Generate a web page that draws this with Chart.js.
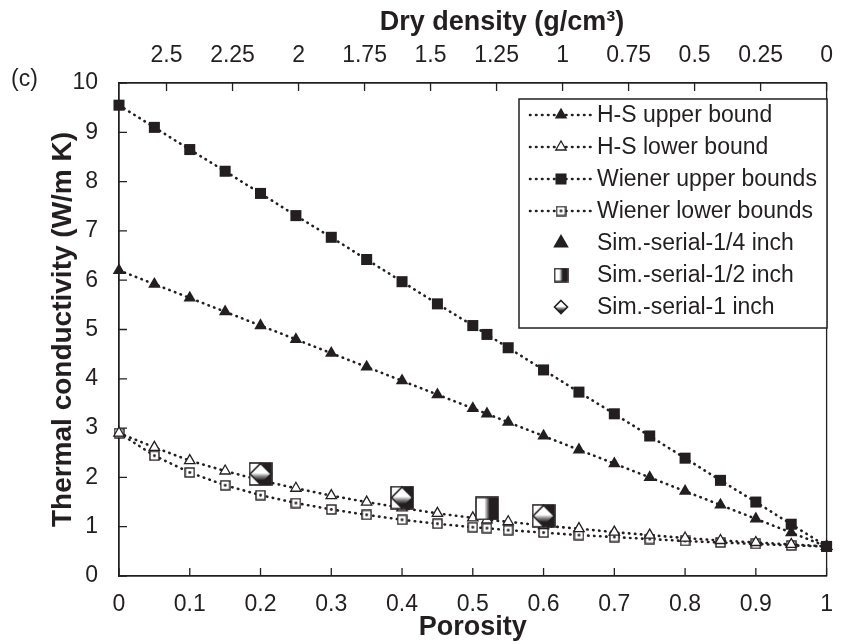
<!DOCTYPE html>
<html><head><meta charset="utf-8">
<script src="https://cdn.jsdelivr.net/npm/chart.js@4.4.1/dist/chart.umd.min.js"></script>
<style>html,body{margin:0;padding:0;background:#fff;}canvas{display:block;}</style>
</head><body>
<canvas id="c" width="848" height="644"></canvas>
<script>
// ---- data ----
const porosity     = [0, 0.05, 0.1, 0.15, 0.2, 0.25, 0.3, 0.35, 0.4, 0.45, 0.5, 0.52, 0.55, 0.6, 0.65, 0.7, 0.75, 0.8, 0.85, 0.9, 0.95, 1];
const hsUpper      = [6.2, 5.92, 5.64, 5.36, 5.08, 4.8, 4.52, 4.24, 3.96, 3.68, 3.4, 3.29, 3.12, 2.84, 2.56, 2.28, 2.0, 1.72, 1.44, 1.16, 0.88, 0.6];
const hsLower      = [2.9, 2.61, 2.34, 2.13, 1.94, 1.78, 1.63, 1.5, 1.38, 1.27, 1.18, 1.14, 1.1, 1.02, 0.96, 0.89, 0.83, 0.77, 0.72, 0.68, 0.64, 0.6];
const wienerUpper  = [9.55, 9.1, 8.65, 8.21, 7.76, 7.31, 6.87, 6.42, 5.97, 5.52, 5.08, 4.9, 4.63, 4.18, 3.73, 3.29, 2.84, 2.39, 1.94, 1.5, 1.05, 0.6];
const wienerLower  = [2.9, 2.44, 2.1, 1.84, 1.64, 1.48, 1.35, 1.24, 1.14, 1.06, 0.99, 0.97, 0.93, 0.88, 0.83, 0.79, 0.75, 0.71, 0.68, 0.65, 0.62, 0.6];
const simQuarterPorosity = [0.2, 0.4, 0.6];
const simQuarter         = [2.07, 1.59, 1.22];
const simHalfPorosity    = [0.2, 0.4, 0.52, 0.6];
const simHalf            = [2.07, 1.59, 1.37, 1.22];
const simOnePorosity     = [0.2, 0.4, 0.6];
const simOne             = [2.07, 1.59, 1.22];
const seriesLabels = ['H-S upper bound', 'H-S lower bound', 'Wiener upper bounds', 'Wiener lower bounds',
                      'Sim.-serial-1/4 inch', 'Sim.-serial-1/2 inch', 'Sim.-serial-1 inch'];
const porosityTicks     = [0, 0.1, 0.2, 0.3, 0.4, 0.5, 0.6, 0.7, 0.8, 0.9, 1];
const conductivityTicks = [0, 1, 2, 3, 4, 5, 6, 7, 8, 9, 10];
const densityTicks      = [2.5, 2.25, 2, 1.75, 1.5, 1.25, 1, 0.75, 0.5, 0.25, 0];
const solidDensity = 2.68; // dry density at zero porosity (top axis span)
const topTitle = 'Dry density (g/cm³)';
const panelLabel = '(c)';

// ---- styling ----
const ink = '#231f20';
const fam = "'Liberation Sans', Arial, Helvetica, sans-serif";
Chart.defaults.font.family = fam;
Chart.defaults.color = ink;

function mk(w, h, draw) { const c = document.createElement('canvas'); c.width = w; c.height = h; draw(c.getContext('2d'), w, h); return c; }
function openSquareDot(s) {
  return mk(s, s, (g, w, h) => {
    g.fillStyle = '#fff'; g.fillRect(1, 1, w - 2, h - 2);
    g.strokeStyle = ink; g.lineWidth = 1.4; g.strokeRect(1, 1, w - 2, h - 2);
    g.fillStyle = ink; g.beginPath(); g.arc(w / 2, h / 2, 1.4, 0, Math.PI * 2); g.fill();
  });
}
function halfSquare(s) {
  return mk(s, s, (g, w, h) => {
    const gr = g.createLinearGradient(1, 0, w - 1, 0);
    gr.addColorStop(0, '#fff'); gr.addColorStop(0.38, '#fff'); gr.addColorStop(0.62, '#231f20'); gr.addColorStop(1, '#231f20');
    g.fillStyle = gr; g.fillRect(1, 1, w - 2, h - 2);
    g.strokeStyle = ink; g.lineWidth = 1.6; g.strokeRect(1, 1, w - 2, h - 2);
  });
}
function gradDiamond(s) {
  return mk(s, s, (g, w, h) => {
    const gr = g.createLinearGradient(0, 1, 0, h - 1);
    gr.addColorStop(0, '#fff'); gr.addColorStop(0.45, '#fff'); gr.addColorStop(0.6, '#8a8a8a'); gr.addColorStop(0.78, '#231f20'); gr.addColorStop(1, '#231f20');
    g.beginPath(); g.moveTo(w / 2, 1.5); g.lineTo(w - 1.5, h / 2); g.lineTo(w / 2, h - 1.5); g.lineTo(1.5, h / 2); g.closePath();
    g.fillStyle = gr; g.fill(); g.strokeStyle = ink; g.lineWidth = 1.6; g.stroke();
  });
}
const wienerLowerMark = openSquareDot(11);
const halfMark = halfSquare(24), halfMarkLegend = halfSquare(15);
const diamondMark = gradDiamond(24), diamondMarkLegend = gradDiamond(16);

const pts = (xs, ys) => xs.map((x, i) => ({ x: x, y: ys[i] }));
const lineBase = { showLine: true, borderColor: ink, borderWidth: 2.6, borderDash: [0.5, 5.5], borderCapStyle: 'round', clip: false, pointBorderColor: ink };

const datasets = [
  Object.assign({}, lineBase, { label: seriesLabels[0], data: pts(porosity, hsUpper), pointStyle: 'triangle', pointRadius: 7.2, pointBackgroundColor: ink, pointBorderWidth: 0, order: 5 }),
  Object.assign({}, lineBase, { label: seriesLabels[1], data: pts(porosity, hsLower), pointStyle: 'triangle', pointRadius: 6, pointBackgroundColor: '#fff', pointBorderWidth: 1.3, order: 7 }),
  Object.assign({}, lineBase, { label: seriesLabels[2], data: pts(porosity, wienerUpper), pointStyle: 'rect', pointRadius: 7.8, pointBackgroundColor: ink, pointBorderWidth: 0, order: 4 }),
  Object.assign({}, lineBase, { label: seriesLabels[3], data: pts(porosity, wienerLower), pointStyle: wienerLowerMark, pointRadius: 6, pointBackgroundColor: '#fff', pointBorderWidth: 0, order: 8 }),
  { label: seriesLabels[4], data: pts(simQuarterPorosity, simQuarter), showLine: false, clip: false, pointStyle: 'triangle', pointRadius: 12, pointBackgroundColor: ink, pointBorderWidth: 0, legendRadius: 9, order: 3 },
  { label: seriesLabels[5], data: pts(simHalfPorosity, simHalf), showLine: false, clip: false, pointStyle: halfMark, legendStyle: halfMarkLegend, pointRadius: 12, pointBorderWidth: 0, order: 2 },
  { label: seriesLabels[6], data: pts(simOnePorosity, simOne), showLine: false, clip: false, pointStyle: diamondMark, legendStyle: diamondMarkLegend, pointRadius: 12, pointBorderWidth: 0, order: 1 }
];

// inward tick marks, closed frame, panel label and top title
const framePlugin = {
  id: 'frame',
  beforeDatasetsDraw(chart) {
    const { ctx, chartArea: a, scales } = chart;
    ctx.save();
    ctx.strokeStyle = ink; ctx.lineWidth = 1.3;
    ctx.strokeRect(a.left, a.top, a.right - a.left, a.bottom - a.top);
    const len = 8;
    ctx.beginPath();
    scales.x.ticks.forEach(t => { const p = scales.x.getPixelForValue(t.value); ctx.moveTo(p, a.bottom); ctx.lineTo(p, a.bottom - len); });
    scales.x2.ticks.forEach(t => { const p = scales.x2.getPixelForValue(t.value); ctx.moveTo(p, a.top); ctx.lineTo(p, a.top + len); });
    scales.y.ticks.forEach(t => { const p = scales.y.getPixelForValue(t.value); ctx.moveTo(a.left, p); ctx.lineTo(a.left + len, p); });
    ctx.stroke();
    ctx.fillStyle = ink;
    ctx.font = "23px " + fam;
    ctx.textBaseline = 'middle'; ctx.textAlign = 'left';
    ctx.fillText(panelLabel, 11, 80);
    ctx.font = "bold 27px " + fam;
    ctx.textAlign = 'center';
    ctx.fillText(topTitle, 502, 23);
    ctx.restore();
  }
};

// boxed legend inside the plot
const legendPlugin = {
  id: 'boxLegend',
  afterDraw(chart) {
    const { ctx } = chart;
    const box = { l: 519, t: 99, r: 827, b: 328 };
    const row0 = 115, gap = 32, lx0 = 530, lx1 = 593, mx = 561, tx = 597;
    ctx.save();
    ctx.fillStyle = '#fff'; ctx.fillRect(box.l, box.t, box.r - box.l, box.b - box.t);
    ctx.strokeStyle = ink; ctx.lineWidth = 1.5; ctx.strokeRect(box.l, box.t, box.r - box.l, box.b - box.t);
    chart.data.datasets.forEach((ds, i) => {
      const y = row0 + i * gap;
      if (ds.showLine) {
        ctx.save();
        ctx.strokeStyle = ink; ctx.lineWidth = ds.borderWidth; ctx.lineCap = 'round'; ctx.setLineDash(ds.borderDash);
        ctx.beginPath(); ctx.moveTo(lx0, y); ctx.lineTo(lx1, y); ctx.stroke();
        ctx.restore();
      }
      ctx.save();
      ctx.fillStyle = ds.pointBackgroundColor || ink; ctx.strokeStyle = ink; ctx.lineWidth = ds.pointBorderWidth || 0;
      Chart.helpers.drawPoint(ctx, { pointStyle: ds.legendStyle || ds.pointStyle, radius: ds.legendRadius || ds.pointRadius, rotation: 0, borderWidth: ds.pointBorderWidth || 0 }, mx, y);
      ctx.restore();
      ctx.fillStyle = ink; ctx.font = "23px " + fam;
      ctx.textBaseline = 'middle'; ctx.textAlign = 'left';
      ctx.fillText(ds.label, tx, y + 1);
    });
    ctx.restore();
  }
};

const tickFont = { size: 23 };

new Chart(document.getElementById('c'), {
  type: 'scatter',
  data: { datasets: datasets },
  options: {
    responsive: false, animation: false, devicePixelRatio: 1,
    layout: { padding: { left: 0, right: 9, top: 0, bottom: 0 } },
    plugins: { legend: { display: false }, tooltip: { enabled: false } },
    scales: {
      x: {
        type: 'linear', position: 'bottom', min: 0, max: 1,
        afterBuildTicks: s => { s.ticks = porosityTicks.map(v => ({ value: v })); },
        afterFit: s => { s.height = 68; },
        ticks: { font: tickFont, color: ink, padding: 15, maxRotation: 0, autoSkip: false, callback: v => String(v) },
        grid: { display: false, drawTicks: false },
        border: { display: true, color: ink, width: 1.3 },
        title: { display: true, text: 'Porosity', font: { size: 27, weight: 'bold' }, color: ink, padding: { top: 0, bottom: 0 } }
      },
      x2: {
        type: 'linear', position: 'top', reverse: true, min: 0, max: solidDensity,
        afterBuildTicks: s => { s.ticks = densityTicks.map(v => ({ value: v })); },
        afterFit: s => { s.height = 83; },
        ticks: { font: tickFont, color: ink, padding: 14, maxRotation: 0, autoSkip: false, callback: v => String(v) },
        grid: { display: false, drawTicks: false },
        border: { display: true, color: ink, width: 1.3 },
        title: { display: false }
      },
      y: {
        type: 'linear', position: 'left', min: 0, max: 10,
        afterBuildTicks: s => { s.ticks = conductivityTicks.map(v => ({ value: v })); },
        afterFit: s => { s.width = 119; },
        ticks: { font: tickFont, color: ink, padding: 21, autoSkip: false, callback: v => String(v) },
        grid: { display: false, drawTicks: false },
        border: { display: true, color: ink, width: 1.3 },
        title: { display: true, text: 'Thermal conductivity (W/m K)', font: { size: 28, weight: 'bold' }, color: ink, padding: { top: 46, bottom: 0 } }
      }
    }
  },
  plugins: [framePlugin, legendPlugin]
});
</script>
</body></html>
